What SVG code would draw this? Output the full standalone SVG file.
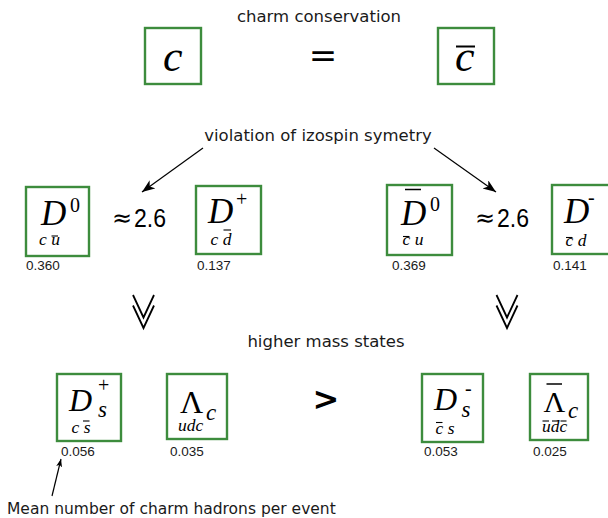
<svg xmlns="http://www.w3.org/2000/svg" width="608" height="518" viewBox="0 0 608 518">
<style>
.lbl{font-family:"DejaVu Sans",sans-serif;font-size:16.5px;fill:#1a1a1a}
.num{font-family:"Liberation Sans",sans-serif;font-size:13.5px;fill:#1a1a1a}
.box{fill:#fff;stroke:#3d8c3d;stroke-width:2.4}
.it{font-family:"Liberation Serif",serif;font-style:italic;fill:#000}
.rm{font-family:"Liberation Serif",serif;fill:#000}
.bar{stroke:#000;stroke-width:1.1}
.big{font-size:35px}
.mid{font-size:32px}
.sup{font-size:20px}
.sub{font-size:17.5px}
.ss{font-size:23px}
.approx{font-family:"Liberation Sans",sans-serif;font-size:25px;fill:#000}
.aps{font-family:"DejaVu Sans",sans-serif;font-size:24px;fill:#000}
.conn{stroke:#000;stroke-width:1.2;fill:none}
</style>
<defs>
<marker id="ah" markerUnits="userSpaceOnUse" markerWidth="16" markerHeight="12" refX="13" refY="5" orient="auto">
<path d="M0,0 L13,5 L0,10 L3.5,5 z" fill="#000"/>
</marker>
<marker id="ahs" markerUnits="userSpaceOnUse" markerWidth="10" markerHeight="8" refX="8" refY="3" orient="auto">
<path d="M0,0 L8,3 L0,6 L2,3 z" fill="#000"/>
</marker>
</defs>

<text class="lbl" x="319" y="22" text-anchor="middle">charm conservation</text>
<text class="lbl" x="318" y="141" text-anchor="middle">violation of izospin symetry</text>
<text class="lbl" x="326" y="347" text-anchor="middle">higher mass states</text>
<text class="lbl" x="7" y="514" style="font-size:15.5px">Mean number of charm hadrons per event</text>

<text x="323" y="67" text-anchor="middle" style="font-family:'DejaVu Sans',sans-serif;font-size:34px;fill:#000">=</text>
<text x="326" y="410" text-anchor="middle" style="font-family:'DejaVu Sans',sans-serif;font-size:32px;font-weight:bold;fill:#000">&gt;</text>
<text class="aps" x="112" y="226">≈</text>
<text class="approx" x="134" y="227" textLength="32" lengthAdjust="spacingAndGlyphs">2.6</text>
<text class="aps" x="475" y="226">≈</text>
<text class="approx" x="497" y="227" textLength="32" lengthAdjust="spacingAndGlyphs">2.6</text>

<g id="c">
<rect class="box" x="145" y="28" width="56" height="56"/>
<text class="it" x="163" y="71" style="font-size:44px">c</text>
</g>
<g id="cbar">
<rect class="box" x="438" y="28" width="56" height="56"/>
<text class="it" x="455" y="71" style="font-size:44px">c</text>
<line class="bar" x1="456" y1="46.5" x2="475" y2="46.5" style="stroke-width:2"/>
</g>

<g id="D0">
<rect class="box" x="26" y="187" width="63" height="69"/>
<text class="it big" x="41" y="225">D</text>
<text class="rm sup" x="70" y="212">0</text>
<text class="it sub" x="39" y="245">c u</text>
<line class="bar" x1="51.5" y1="236" x2="58" y2="236"/>
<text class="num" x="26" y="270">0.360</text>
</g>
<g id="Dplus">
<rect class="box" x="196" y="186" width="65" height="68"/>
<text class="it big" x="208" y="223">D</text>
<text class="rm sup" x="236" y="206">+</text>
<text class="it sub" x="210.5" y="245">c d</text>
<line class="bar" x1="223.5" y1="230" x2="231" y2="230"/>
<text class="num" x="197" y="270">0.137</text>
</g>
<g id="D0bar">
<rect class="box" x="387" y="185" width="65" height="70"/>
<text class="it big" x="401" y="225">D</text>
<line class="bar" x1="405" y1="189.5" x2="421" y2="189.5" style="stroke-width:1.5"/>
<text class="rm sup" x="430" y="211">0</text>
<text class="it sub" x="402.5" y="245">c u</text>
<line class="bar" x1="403" y1="236.5" x2="409.5" y2="236.5"/>
<text class="num" x="392" y="270">0.369</text>
</g>
<g id="Dminus">
<rect class="box" x="552" y="185" width="65" height="69"/>
<text class="it big" x="564" y="223">D</text>
<text class="rm sup" x="588" y="204">-</text>
<text class="it sub" x="565.5" y="246">c d</text>
<line class="bar" x1="566" y1="237.5" x2="572.5" y2="237.5"/>
<text class="num" x="553" y="270">0.141</text>
</g>

<g id="Dsplus">
<rect class="box" x="57" y="374" width="64" height="67"/>
<text class="it mid" x="69" y="411">D</text>
<text class="rm sup" x="98" y="392">+</text>
<text class="it ss" x="98" y="417">s</text>
<text class="it sub" x="71.5" y="433">c s</text>
<line class="bar" x1="83" y1="421" x2="89.5" y2="421"/>
<text class="num" x="61" y="456">0.056</text>
</g>
<g id="Lambdac">
<rect class="box" x="167" y="374" width="60" height="65"/>
<text class="rm mid" x="180" y="413">Λ</text>
<text class="it ss" x="206" y="420">c</text>
<text class="it sub" x="178" y="431">udc</text>
<text class="num" x="170" y="456">0.035</text>
</g>
<g id="Dsminus">
<rect class="box" x="422" y="374" width="61" height="68"/>
<text class="it mid" x="434" y="410">D</text>
<text class="rm sup" x="465" y="395">-</text>
<text class="it ss" x="461.5" y="417">s</text>
<text class="it sub" x="435.5" y="434">c s</text>
<line class="bar" x1="436" y1="422.5" x2="442.5" y2="422.5"/>
<text class="num" x="424" y="456">0.053</text>
</g>
<g id="Lambdacbar">
<rect class="box" x="530" y="374" width="58" height="66"/>
<text class="rm" x="554.5" y="412" text-anchor="middle" style="font-size:30px">Λ</text>
<line class="bar" x1="546.5" y1="384" x2="562" y2="384" style="stroke-width:1.5"/>
<text class="it ss" x="568" y="418">c</text>
<text class="it sub" x="542" y="432">udc</text>
<line class="bar" x1="542.5" y1="421" x2="549" y2="421"/>
<line class="bar" x1="552" y1="421" x2="558.5" y2="421"/>
<line class="bar" x1="560.5" y1="421" x2="566.5" y2="421"/>
<text class="num" x="533" y="456">0.025</text>
</g>

<g id="connectors">
<line class="conn" x1="203" y1="148" x2="142" y2="192" marker-end="url(#ah)"/>
<line class="conn" x1="434" y1="148" x2="496" y2="192" marker-end="url(#ah)"/>
<line class="conn" x1="52" y1="496" x2="61" y2="459" marker-end="url(#ahs)"/>
<path d="M133,295 L143.5,317.5 L154,295 M133,305.5 L143.5,328 L154,305.5" fill="none" stroke="#000" stroke-width="1.8"/>
<path d="M496.5,295 L507,317.5 L517.5,295 M496.5,305.5 L507,328 L517.5,305.5" fill="none" stroke="#000" stroke-width="1.8"/>
</g>
</svg>
